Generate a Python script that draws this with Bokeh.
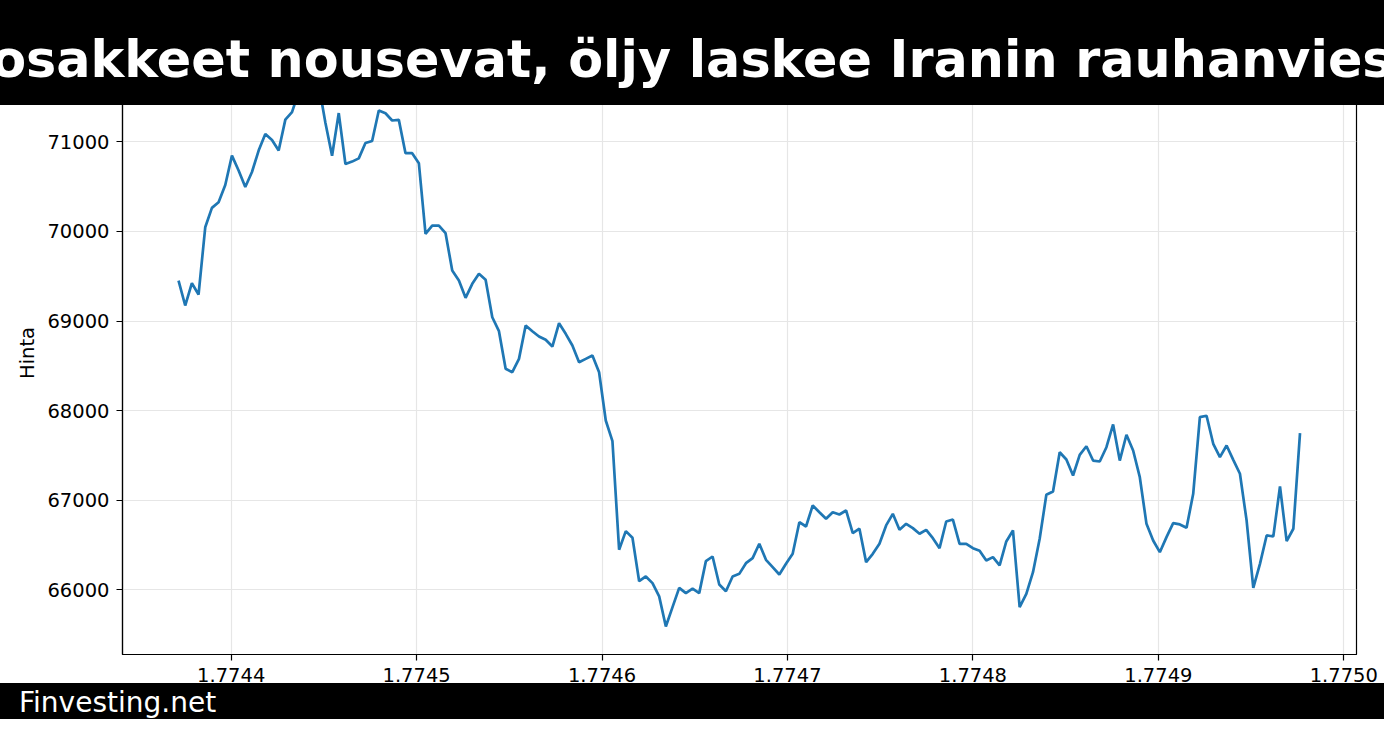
from bokeh.plotting import figure
from bokeh.layouts import column
from bokeh.models import Range1d, FixedTicker, Div
from bokeh.embed import file_html
from bokeh.resources import INLINE

# ---------------- data ----------------
title_text = "osakkeet nousevat, öljy laskee Iranin rauhanviest"
footer_text = "Finvesting.net"
y_axis_label = "Hinta"

start_time = 1774371600          # first hourly timestamp (s)
step_seconds = 3600

prices = [
    69452, 69173, 69422, 69296, 70047, 70264, 70327, 70520, 70848, 70681,
    70497, 70665, 70904, 71090, 71023, 70904, 71250, 71334, 71560, 71700,
    71790, 71640, 71216, 70846, 71323, 70754, 70781, 70817, 70989, 71012,
    71351, 71321, 71240, 71247, 70875, 70875, 70763, 69974, 70066, 70066,
    69981, 69564, 69452, 69259, 69415, 69527, 69460, 69042, 68886, 68466,
    68428, 68577, 68950, 68886, 68827, 68790, 68715, 68975, 68857, 68726,
    68540, 68577, 68614, 68428, 67888, 67657, 66444, 66652, 66578, 66093,
    66146, 66071, 65923, 65587, 65803, 66019, 65960, 66009, 65960, 66317,
    66369, 66056, 65981, 66146, 66175, 66294, 66350, 66511, 66332, 66250,
    66168, 66287, 66399, 66752, 66704, 66939, 66864, 66790, 66864, 66838,
    66883, 66630, 66679, 66306, 66399, 66511, 66716, 66846, 66667, 66734,
    66686, 66623, 66667, 66574, 66462, 66760, 66782, 66511, 66511, 66462,
    66433, 66324, 66362, 66269, 66537, 66660, 65803, 65952, 66194, 66567,
    67058, 67095, 67534, 67453, 67274, 67505, 67601, 67441, 67430, 67590,
    67844, 67441, 67729, 67553, 67255, 66734, 66548, 66417, 66585, 66741,
    66727, 66690, 67069, 67926, 67941, 67628, 67479, 67609, 67449, 67293,
    66771, 66019, 66287, 66604, 66593, 67151, 66540, 66679, 67747,
]
times = [start_time + i * step_seconds for i in range(len(prices))]

x_tick_values = [1774400000, 1774500000, 1774600000, 1774700000,
                 1774800000, 1774900000, 1775000000]
x_tick_labels = ["1.7744", "1.7745", "1.7746", "1.7747", "1.7748", "1.7749", "1.7750"]
y_tick_values = [66000, 67000, 68000, 69000, 70000, 71000]
y_tick_labels = ["66000", "67000", "68000", "69000", "70000", "71000"]

# ---------------- layout ----------------
W = 1384
TOP_H = 105            # title banner
MAIN_OVERLAP = 54      # main figure's top part hidden under the banner
FRAME_H = 603
BOTTOM_BORDER = 38
MAIN_H = FRAME_H + BOTTOM_BORDER
BOT_OVERLAP = 9        # footer banner covers the bottom of the tick labels
BOT_H = 719 - (TOP_H - MAIN_OVERLAP + MAIN_H - BOT_OVERLAP)
FL, FR = 122, 1356
X0, X1 = 1774341380, 1775006860
Y0, Y1 = 65274, 72011

title_html = (
    '<div style="position:relative;width:%dpx;height:%dpx;overflow:hidden;background:#000;">'
    '<span style="position:absolute;left:704px;top:35px;transform:translateX(-50%%);'
    'white-space:nowrap;font-family:\'DejaVu Sans\';font-weight:bold;font-size:50.8px;'
    'line-height:1;color:#fff;">%s</span></div>' % (W, TOP_H, title_text)
)
footer_html = (
    '<div style="position:relative;width:%dpx;height:%dpx;overflow:hidden;background:#000;">'
    '<span style="position:absolute;left:19px;top:6px;white-space:nowrap;'
    'font-family:\'DejaVu Sans\';font-size:28px;line-height:1;color:#fff;">%s</span></div>'
    % (W, BOT_H, footer_text)
)

top = Div(text=title_html, width=W, height=TOP_H, margin=0,
          styles={"position": "relative", "z-index": "5", "overflow": "hidden"})
bottom = Div(text=footer_html, width=W, height=BOT_H, margin=(-BOT_OVERLAP, 0, 0, 0),
             styles={"position": "relative", "z-index": "5", "overflow": "hidden"})

p = figure(width=W, height=MAIN_H, output_backend="svg", toolbar_location=None,
           x_range=Range1d(X0, X1), y_range=Range1d(Y0, Y1),
           min_border_left=FL, min_border_right=W - FR,
           min_border_top=0, min_border_bottom=BOTTOM_BORDER,
           margin=(-MAIN_OVERLAP, 0, 0, 0))
p.background_fill_color = "white"
p.border_fill_color = "white"
p.outline_line_color = "black"
p.outline_line_width = 1.2
p.outline_line_alpha = 1.0

p.line(times, prices, line_color="#1f77b4", line_width=2.7)

for ax in (p.xaxis[0], p.yaxis[0]):
    ax.axis_line_color = "black"
    ax.axis_line_width = 1.2
    ax.major_tick_line_color = "black"
    ax.major_tick_line_width = 1.2
    ax.major_tick_out = 6
    ax.major_tick_in = 0
    ax.minor_tick_line_color = None
    ax.major_label_text_font = "DejaVu Sans"
    ax.major_label_text_font_size = "19.5px"
    ax.major_label_text_color = "black"

p.xaxis[0].ticker = FixedTicker(ticks=x_tick_values)
p.xaxis[0].major_label_overrides = dict(zip(x_tick_values, x_tick_labels))
p.xaxis[0].major_label_standoff = 7
p.yaxis[0].ticker = FixedTicker(ticks=y_tick_values)
p.yaxis[0].major_label_overrides = dict(zip(y_tick_values, y_tick_labels))
p.yaxis[0].major_label_standoff = 7
p.yaxis[0].axis_label = y_axis_label
p.yaxis[0].axis_label_text_font = "DejaVu Sans"
p.yaxis[0].axis_label_text_font_size = "19.5px"
p.yaxis[0].axis_label_text_font_style = "normal"
p.yaxis[0].axis_label_text_color = "black"
p.yaxis[0].axis_label_standoff = 5

for g in (p.xgrid[0], p.ygrid[0]):
    g.grid_line_color = "#e6e6e6"
    g.grid_line_width = 1.2

layout = column(top, p, bottom, spacing=0)
open("out.html", "w").write(file_html(layout, INLINE))
